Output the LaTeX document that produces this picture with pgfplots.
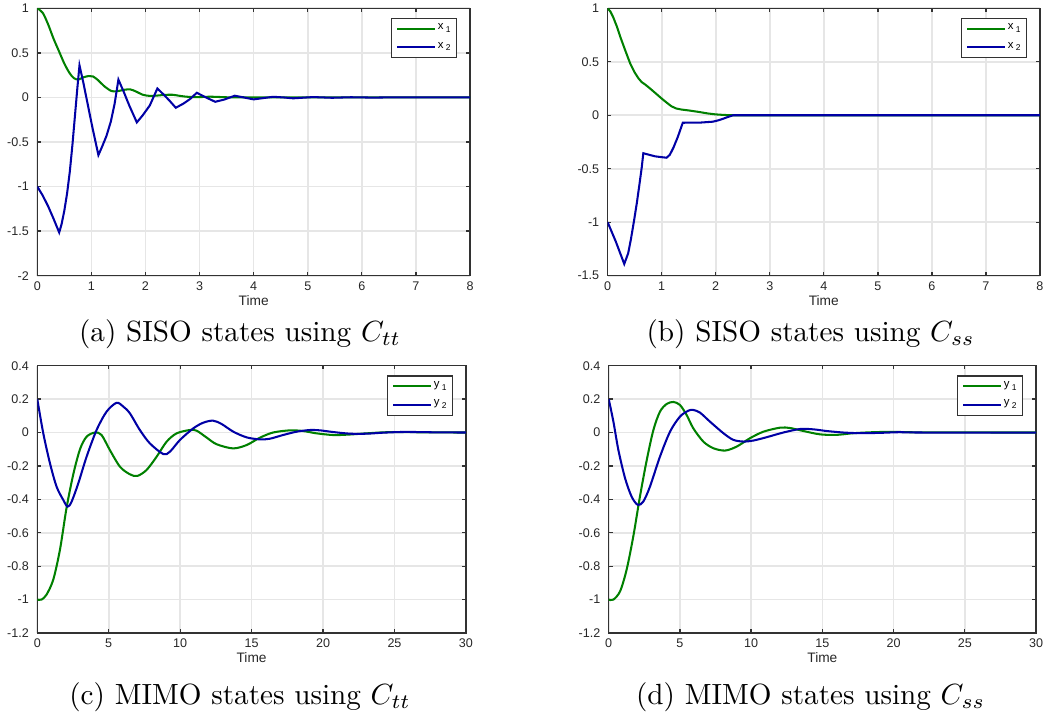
\documentclass[border=0pt]{standalone}
\usepackage{fontspec}
\usepackage{pgfplots}
\pgfplotsset{compat=1.18}
\newfontfamily\hv{Liberation Sans}
\definecolor{mgreen}{RGB}{0,128,0}
\definecolor{mblue}{RGB}{0,0,165}
\definecolor{mgrid}{RGB}{230,230,230}
\definecolor{mbox}{RGB}{50,50,50}
\pgfplotsset{
  mstyle/.style={
    scale only axis,
    anchor=south west,
    axis line style={draw=mbox, line width=0.45pt},
    tick style={draw=mbox, line width=0.45pt},
    major tick length=1.3pt,
    tick align=inside,
    xtick pos=both, ytick pos=both,
    grid=major,
    major grid style={draw=mgrid, line width=0.55pt},
    ticklabel style={font=\hv\fontsize{4.3}{5}\selectfont, text=black!85},
    xticklabel style={anchor=base, inner sep=0pt, yshift=-4.9pt},
    yticklabel style={anchor=east, inner sep=0pt, xshift=-2.7pt},
    xlabel={Time},
    xlabel style={font=\hv\fontsize{4.7}{5}\selectfont, text=black!85, at={(axis description cs:0.5,0)}, anchor=base, inner sep=0pt, yshift=-10.25pt},
    legend style={at={(1,1)}, anchor=north east, xshift=-4.35pt, yshift=-3.3pt,
      draw=mbox, line width=0.4pt, fill=white,
      font=\hv\fontsize{3.9}{4}\selectfont,
      inner xsep=1.5pt, inner ysep=1.2pt, row sep=1.5pt, column sep=0pt,
      nodes={inner sep=0.6pt},
      cells={anchor=west}},
    legend image code/.code={\draw[#1, line width=0.65pt] (0pt,0pt) -- (13pt,0pt);},
    every axis plot/.append style={line width=0.7pt},
  }
}
\newcommand{\sub}[2]{#1\hspace{0.8pt}\raisebox{-1.0pt}{\fontsize{2.9}{3}\selectfont #2}}
\begin{document}
\begin{tikzpicture}
\useasboundingbox (0,0) rectangle (358.22pt,-245.55pt);
% (a)
\begin{axis}[mstyle, at={(12.77pt,-94.42pt)}, width=148.2pt, height=91.58pt,
  xmin=0, xmax=8, ymin=-2, ymax=1,
  xtick={0,1,...,8}, xticklabels={0,1,2,3,4,5,6,7,8},
  ytick={-2,-1.5,-1,-0.5,0,0.5,1}, yticklabels={-2,-1.5,-1,-0.5,0,0.5,1}]
\addplot[mgreen, smooth] coordinates {
(0,1.0) (0.1,0.95) (0.2,0.82) (0.3,0.66) (0.4,0.52) (0.5,0.38) (0.6,0.27) (0.68,0.215) (0.76,0.2) (0.85,0.225) (0.95,0.24) (1.03,0.235) (1.12,0.195) (1.25,0.12) (1.38,0.07) (1.5,0.072) (1.6,0.085) (1.72,0.09) (1.83,0.065) (1.95,0.03) (2.08,0.017) (2.2,0.02) (2.35,0.028) (2.5,0.03) (2.65,0.016) (2.8,0.006) (3.0,0.004) (3.2,0.008) (3.4,0.004) (3.6,0.0) (3.8,0.002) (4.0,0.0) (5,0.0) (6,0.0) (8,0.0)};
\addlegendentry{\sub{x}{1}}
\addplot[mblue] coordinates {
(0,-1) (0.1,-1.1) (0.2,-1.22) (0.3,-1.36) (0.405,-1.515) (0.45,-1.42) (0.5,-1.27) (0.55,-1.08) (0.6,-0.84) (0.65,-0.53) (0.7,-0.18) (0.74,0.1) (0.78,0.36) (0.85,0.17) (0.93,-0.07) (1.02,-0.34) (1.13,-0.647) (1.2,-0.55) (1.28,-0.43) (1.36,-0.27) (1.43,-0.07) (1.5,0.2) (1.6,0.06) (1.7,-0.09) (1.84,-0.28) (1.95,-0.2) (2.08,-0.09) (2.22,0.1) (2.34,0.03) (2.45,-0.04) (2.56,-0.116) (2.7,-0.07) (2.82,-0.02) (2.95,0.052) (3.1,0.005) (3.29,-0.049) (3.45,-0.025) (3.65,0.019) (3.8,0.002) (4.0,-0.022) (4.17,-0.008) (4.36,0.007) (4.55,0.0) (4.73,-0.01) (5.1,0.004) (5.45,-0.004) (5.8,0.002) (6.2,-0.002) (6.6,0.001) (7,0) (8,0)};
\addlegendentry{\sub{x}{2}}
\end{axis}
% (b)
\begin{axis}[mstyle, at={(208.1pt,-94.42pt)}, width=148.05pt, height=91.58pt,
  xmin=0, xmax=8, ymin=-1.5, ymax=1,
  xtick={0,1,...,8}, xticklabels={0,1,2,3,4,5,6,7,8},
  ytick={-1.5,-1,-0.5,0,0.5,1}, yticklabels={-1.5,-1,-0.5,0,0.5,1}]
\addplot[mgreen] coordinates {
(0,1) (0.05,0.97) (0.1,0.92) (0.17,0.83) (0.233,0.734) (0.33,0.6) (0.417,0.484) (0.5,0.4) (0.57,0.345) (0.63,0.31) (0.7,0.285) (0.785,0.25) (0.9,0.2) (1.0,0.156) (1.1,0.115) (1.18,0.084) (1.27,0.063) (1.37,0.053) (1.5,0.045) (1.7,0.03) (1.85,0.017) (2.0,0.008) (2.15,0.003) (2.3,0) (3,0) (8,0)};
\addlegendentry{\sub{x}{1}}
\addplot[mblue] coordinates {
(0,-1) (0.15,-1.18) (0.307,-1.39) (0.38,-1.29) (0.43,-1.16) (0.49,-0.98) (0.54,-0.82) (0.59,-0.64) (0.63,-0.49) (0.66,-0.355) (0.77,-0.37) (0.877,-0.384) (1.0,-0.392) (1.09,-0.397) (1.15,-0.37) (1.22,-0.3) (1.3,-0.2) (1.39,-0.07) (1.7,-0.069) (1.95,-0.06) (2.05,-0.047) (2.13,-0.034) (2.22,-0.017) (2.32,0) (3,0) (8,0)};
\addlegendentry{\sub{x}{2}}
\end{axis}
% (c)
\begin{axis}[mstyle, at={(12.77pt,-216.78pt)}, width=146.8pt, height=91.54pt,
  xmin=0, xmax=30, ymin=-1.2, ymax=0.4,
  xtick={0,5,...,30}, xticklabels={0,5,10,15,20,25,30},
  ytick={-1.2,-1,-0.8,-0.6,-0.4,-0.2,0,0.2,0.4}, yticklabels={-1.2,-1,-0.8,-0.6,-0.4,-0.2,0,0.2,0.4}]
\addplot[mgreen, smooth] coordinates {
(0,-1.0) (0.3,-1.0) (0.65,-0.97) (1.12,-0.88) (1.59,-0.70) (2.05,-0.45) (2.52,-0.25) (2.99,-0.10) (3.45,-0.025) (4.04,0.0) (4.5,-0.015) (5.08,-0.105) (5.79,-0.205) (6.48,-0.25) (7.0,-0.26) (7.65,-0.224) (8.35,-0.145) (9.05,-0.055) (9.75,-0.005) (10.68,0.015) (11.15,0.011) (11.85,-0.03) (12.55,-0.07) (13.7,-0.095) (14.65,-0.075) (15.58,-0.031) (16.5,0) (17.68,0.013) (18.6,0.009) (19.55,-0.005) (20.7,-0.015) (21.65,-0.013) (23.05,-0.005) (24.2,0.001) (25.4,0.003) (27.25,0.001) (30,0)};
\addlegendentry{\sub{y}{1}}
\addplot[mblue, smooth] coordinates {
(0,0.2) (0.42,-0.005) (0.89,-0.185) (1.35,-0.324) (1.82,-0.404) (2.12,-0.444) (2.4,-0.414) (2.87,-0.304) (3.45,-0.145) (4.15,0.015) (4.85,0.125) (5.55,0.178) (6.02,0.155) (6.48,0.115) (7.18,0.015) (7.88,-0.065) (8.82,-0.129) (9.28,-0.115) (9.98,-0.045) (10.92,0.025) (11.62,0.059) (12.3,0.071) (12.9,0.051) (13.72,0.005) (14.65,-0.029) (15.58,-0.041) (16.28,-0.037) (17.2,-0.015) (18.15,0.005) (19.08,0.015) (19.78,0.013) (20.7,0.003) (21.9,-0.007) (23.05,-0.007) (24.2,-0.001) (25.4,0.003) (26.5,0.003) (28,0.001) (30,0)};
\addlegendentry{\sub{y}{2}}
\end{axis}
% (d)
\begin{axis}[mstyle, at={(208.46pt,-216.78pt)}, width=146.34pt, height=91.54pt,
  xmin=0, xmax=30, ymin=-1.2, ymax=0.4,
  xtick={0,5,...,30}, xticklabels={0,5,10,15,20,25,30},
  ytick={-1.2,-1,-0.8,-0.6,-0.4,-0.2,0,0.2,0.4}, yticklabels={-1.2,-1,-0.8,-0.6,-0.4,-0.2,0,0.2,0.4}]
\addplot[mgreen, smooth] coordinates {
(0,-1.0) (0.33,-1.0) (0.8,-0.95) (1.26,-0.82) (1.73,-0.62) (2.2,-0.38) (2.67,-0.165) (3.14,0.016) (3.6,0.125) (4.07,0.171) (4.54,0.183) (5.0,0.165) (5.47,0.105) (5.94,0.025) (6.65,-0.055) (7.35,-0.094) (8.17,-0.108) (8.99,-0.084) (9.92,-0.034) (10.86,0.005) (12.03,0.029) (12.73,0.027) (13.67,0.009) (14.84,-0.011) (16.0,-0.014) (17.18,-0.004) (18.58,0.002) (19.98,0.004) (22,0.001) (30,0)};
\addlegendentry{\sub{y}{1}}
\addplot[mblue, smooth] coordinates {
(0,0.2) (0.33,0.065) (0.68,-0.105) (1.15,-0.274) (1.61,-0.384) (2.04,-0.433) (2.43,-0.413) (2.9,-0.323) (3.6,-0.144) (4.31,0.006) (5.0,0.095) (5.6,0.131) (5.94,0.135) (6.41,0.119) (7.11,0.065) (8.05,-0.004) (8.75,-0.044) (9.46,-0.054) (10.16,-0.048) (11.09,-0.028) (12.26,0.0) (13.43,0.021) (14.37,0.019) (15.3,0.009) (16.48,0) (17.65,-0.004) (19.05,-0.002) (20.45,0.002) (22,0) (30,0)};
\addlegendentry{\sub{y}{2}}
\end{axis}
\node[anchor=base, inner sep=0pt] at (82.2pt,-116.9pt) {(a) SISO states using $C_{tt}$};
\node[anchor=base, inner sep=0pt] at (277.6pt,-116.9pt) {(b) SISO states using $C_{ss}$};
\node[anchor=base, inner sep=0pt] at (82.2pt,-241.3pt) {(c) MIMO states using $C_{tt}$};
\node[anchor=base, inner sep=0pt] at (277.6pt,-241.3pt) {(d) MIMO states using $C_{ss}$};
\end{tikzpicture}
\end{document}
